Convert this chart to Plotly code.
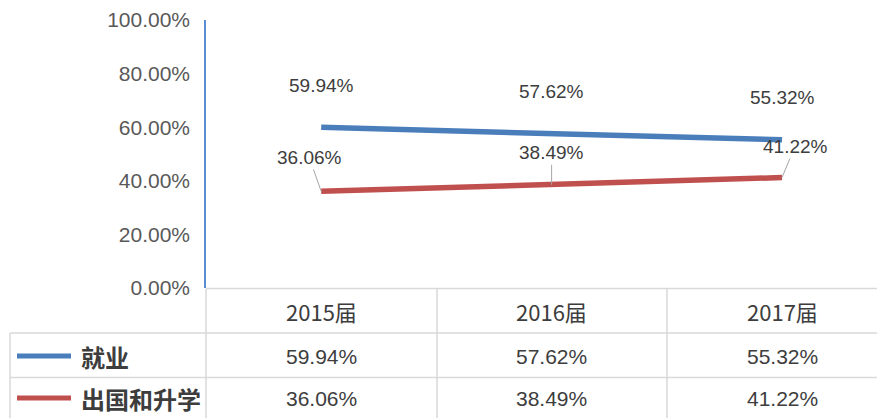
import plotly.graph_objects as go

categories = ["2015届", "2016届", "2017届"]
series_names = ["就业", "出国和升学"]
employment = [59.94, 57.62, 55.32]
abroad_study = [36.06, 38.49, 41.22]
y_ticks = [0, 20, 40, 60, 80, 100]
y_tick_labels = [f"{t:.2f}%" for t in y_ticks]

# page body has an 8px margin; figure is sized to fill the rest of the window
OFF = 8
W, H = 885 - OFF, 418 - OFF
def px(x):
    return (x - OFF) / W
def py(y):
    return 1 - (y - OFF) / H

BLUE = "#4a7ebb"
RED = "#c0504d"
TXT = "#3d3d3d"
GRID = "#d9d9d9"
FONT = "Liberation Sans, Noto Sans CJK SC, sans-serif"
CJK = "Noto Sans CJK SC, Liberation Sans, sans-serif"

xs = list(range(len(categories)))
fig = go.Figure()
fig.add_trace(go.Scatter(x=xs, y=employment, mode="lines", name=series_names[0],
                         line=dict(color=BLUE, width=5.5), hoverinfo="skip"))
fig.add_trace(go.Scatter(x=xs, y=abroad_study, mode="lines", name=series_names[1],
                         line=dict(color=RED, width=5.5), hoverinfo="skip"))

ann = []
for i, v in enumerate(employment):
    ann.append(dict(x=i, y=v, xref="x", yref="y", text=f"{v:.2f}%", showarrow=False,
                    yshift=42, font=dict(family=FONT, size=19, color=TXT)))
red_off = [(-12, -34), (0, -32), (13, -31)]
for i, v in enumerate(abroad_study):
    ax, ay = red_off[i]
    ann.append(dict(x=i, y=v, xref="x", yref="y", text=f"{v:.2f}%", showarrow=True,
                    arrowhead=0, arrowwidth=1, arrowcolor="#a6a6a6", ax=ax, ay=ay,
                    standoff=0, font=dict(family=FONT, size=19, color=TXT)))
for i, c in enumerate(categories):
    ann.append(dict(x=i, y=py(311), xref="x", yref="paper", yanchor="middle", text=c,
                    showarrow=False, font=dict(family=CJK, size=22, color=TXT)))
rows = [(employment, 356), (abroad_study, 398)]
for vals, yc in rows:
    for i, v in enumerate(vals):
        ann.append(dict(x=i, y=py(yc), xref="x", yref="paper", yanchor="middle",
                        text=f"{v:.2f}%", showarrow=False,
                        font=dict(family=FONT, size=21, color=TXT)))
for name, yc in zip(series_names, [356, 398]):
    ann.append(dict(x=px(79), y=py(yc), xref="paper", yref="paper", text=f"<b>{name}</b>",
                    showarrow=False, xanchor="left", yanchor="middle",
                    font=dict(family=CJK, size=24, color=TXT)))

shapes = []
def hline(x0, x1, y, color=GRID, w=1.5):
    shapes.append(dict(type="line", xref="paper", yref="paper", x0=px(x0), x1=px(x1),
                       y0=py(y), y1=py(y), line=dict(color=color, width=w)))
def vline(x, y0, y1, color=GRID, w=1.5):
    shapes.append(dict(type="line", xref="paper", yref="paper", x0=px(x), x1=px(x),
                       y0=py(y0), y1=py(y1), line=dict(color=color, width=w)))
hline(206, 885, 288.5)
hline(10, 885, 333)
hline(10, 885, 377.5)
vline(10, 333, 418)
vline(206, 289, 418)
vline(437, 289, 418)
vline(667, 289, 418)
for col, yc in zip([BLUE, RED], [356, 398]):
    shapes.append(dict(type="line", xref="paper", yref="paper", x0=px(17), x1=px(71),
                       y0=py(yc), y1=py(yc), line=dict(color=col, width=5)))

fig.update_layout(
    width=W, height=H, margin=dict(l=0, r=0, t=0, b=0),
    paper_bgcolor="white", plot_bgcolor="white", showlegend=False,
    annotations=ann, shapes=shapes,
    xaxis=dict(domain=[px(206), 1], range=[-0.5, 2.447], showgrid=False, zeroline=False,
               showticklabels=False, showline=False, fixedrange=True),
    yaxis=dict(domain=[py(288), py(20)], range=[0, 100], tickvals=y_ticks,
               ticktext=y_tick_labels, showgrid=False, zeroline=False,
               showline=True, linecolor="#5b8bd0", linewidth=1.5,
               ticks="", ticklabelstandoff=10, automargin=False,
               tickfont=dict(family=FONT, size=21, color="#595959")),
)
fig.write_html("out.html")
